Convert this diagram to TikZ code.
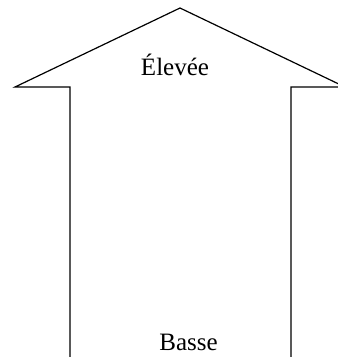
\documentclass[tikz,border=0pt]{standalone}
\usepackage{fontspec}
\setmainfont{Liberation Serif}
\tikzset{
fleche/.style={line width=1.2pt, line join=miter},
niveau/.style={anchor=base, font=\fontsize{25}{30}\selectfont}
}
\begin{document}
\begin{tikzpicture}[x=1pt,y=-1pt]

\useasboundingbox (0,0) rectangle (338,357);
\clip (0,0) rectangle (338,357);

% Fleche
\draw[fleche] (70,357) -- (70,87) -- (15,87) -- (180,8)
-- (345,87) -- (291,87) -- (291,357);

% Textes
\node[niveau] (haut) at (175,75) {Élevée};
\node[niveau] (bas) at (188.5,350) {Basse};

\end{tikzpicture}
\end{document}
